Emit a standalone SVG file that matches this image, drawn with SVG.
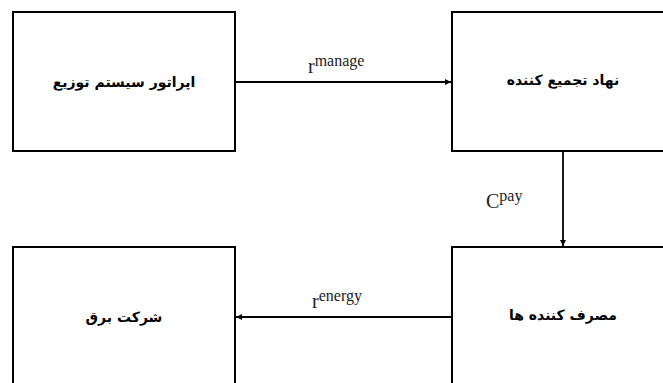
<svg xmlns="http://www.w3.org/2000/svg" width="663" height="383" viewBox="0 0 663 383">
<style>
.box{fill:#fff;stroke:#000;stroke-width:2}
.lbl{font-family:"DejaVu Sans",sans-serif;font-weight:bold;font-size:14px;text-anchor:middle;fill:#000}
.edge{stroke:#000;stroke-width:1.8;fill:none}
.m{font-family:"Liberation Serif",serif;font-size:20px;fill:#222}
.sup{font-family:"Liberation Serif",serif;font-size:16px}
</style>
<defs>
<marker id="ah" viewBox="0 0 10 10" refX="10" refY="5" markerWidth="6" markerHeight="6" orient="auto" markerUnits="userSpaceOnUse"><path d="M0,0 L10,5 L0,10 z" fill="#000"/></marker>
</defs>
<rect width="663" height="383" fill="#fff"/>
<g id="node-operator"><rect class="box" x="13" y="12" width="222" height="139"/><text class="lbl" x="124" y="87" direction="rtl">اپراتور سیستم توزیع</text></g>
<g id="node-aggregator"><rect class="box" x="452" y="12" width="222" height="139"/><text class="lbl" x="563" y="85" direction="rtl">نهاد تجمیع کننده</text></g>
<g id="node-consumers"><rect class="box" x="452" y="247" width="222" height="150"/><text class="lbl" x="563" y="320" direction="rtl">مصرف کننده ها</text></g>
<g id="node-company"><rect class="box" x="13" y="247" width="222" height="150"/><text class="lbl" x="124" y="322" direction="rtl">شرکت برق</text></g>
<g id="connectors">
<line class="edge" x1="235" y1="82" x2="451" y2="82" marker-end="url(#ah)"/>
<line class="edge" x1="563" y1="151" x2="563" y2="246" marker-end="url(#ah)"/>
<line class="edge" x1="452" y1="317" x2="236" y2="317" marker-end="url(#ah)"/>
<text class="m" x="308" y="73">r<tspan class="sup" dy="-7">manage</tspan></text>
<text class="m" x="486" y="208">C<tspan class="sup" dy="-7">pay</tspan></text>
<text class="m" x="312" y="308">r<tspan class="sup" dy="-7">energy</tspan></text>
</g>
</svg>
